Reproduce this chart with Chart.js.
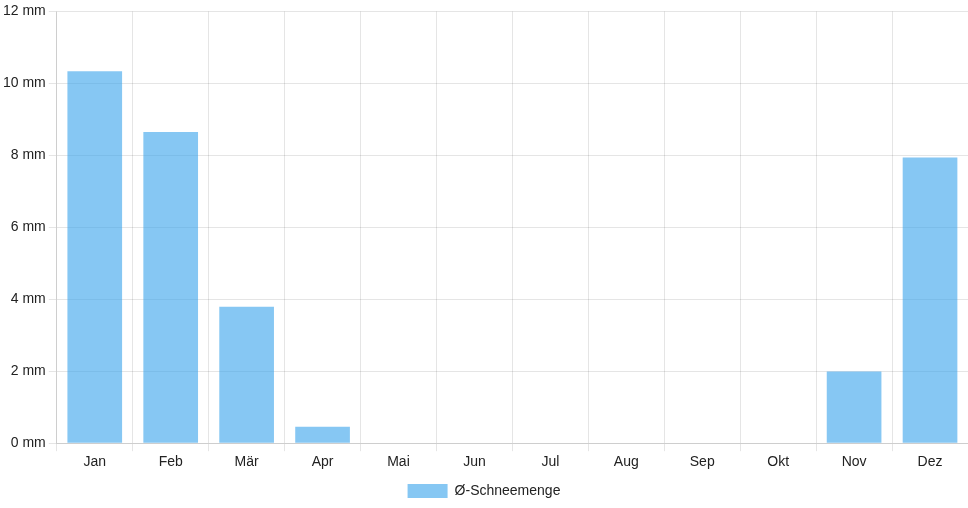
<!DOCTYPE html>
<html lang="de">
<head>
    <meta charset="UTF-8">
    <title>Schneemenge</title>
    <script src="https://cdn.jsdelivr.net/npm/chart.js"></script>
    <style>
        html, body {
            margin: 0;
            padding: 0;
            background: #fff;
        }
        #wrap {
            width: 968px;
            height: 508px;
        }
    </style>
</head>
<body>
    <div id="wrap">
        <canvas id="snowChart"></canvas>
    </div>

    <script>
        // Monate und durchschnittliche Schneemenge (mm)
        const months = ['Jan', 'Feb', 'Mär', 'Apr', 'Mai', 'Jun', 'Jul', 'Aug', 'Sep', 'Okt', 'Nov', 'Dez'];
        const snowAmount = [10.34, 8.65, 3.79, 0.46, 0, 0, 0, 0, 0, 0, 1.99, 7.94];
        const seriesLabel = 'Ø-Schneemenge';
        const yMax = 12;
        const yStep = 2;

        Chart.defaults.font.family = 'Arial, "Liberation Sans", Helvetica, sans-serif';
        Chart.defaults.font.size = 14;
        Chart.defaults.color = '#222';

        const ctx = document.getElementById('snowChart').getContext('2d');
        new Chart(ctx, {
            type: 'bar',
            data: {
                labels: months,
                datasets: [{
                    label: seriesLabel,
                    data: snowAmount,
                    backgroundColor: 'rgba(54, 162, 235, 0.6)',
                    borderWidth: 0
                }]
            },
            options: {
                responsive: true,
                maintainAspectRatio: false,
                animation: false,
                plugins: {
                    legend: {
                        position: 'bottom'
                    },
                    tooltip: { enabled: false }
                },
                scales: {
                    x: {
                        grid: { offset: true }
                    },
                    y: {
                        min: 0,
                        max: yMax,
                        ticks: {
                            stepSize: yStep,
                            callback: v => v + ' mm'
                        }
                    }
                }
            }
        });
    </script>
</body>
</html>
